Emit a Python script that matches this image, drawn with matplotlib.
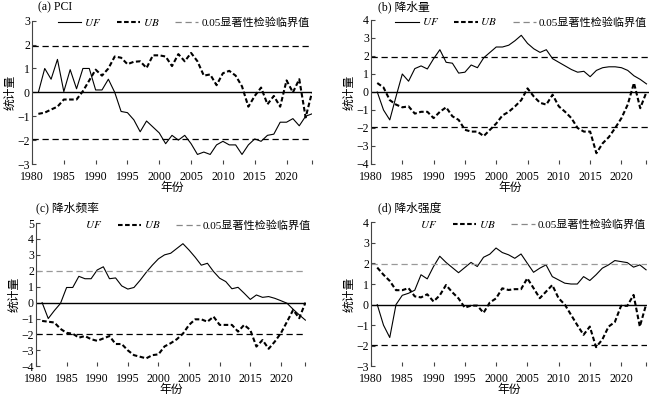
import numpy as np
import matplotlib
matplotlib.use("Agg")
import matplotlib.pyplot as plt
from matplotlib.lines import Line2D

plt.rcParams['font.family'] = ['Liberation Serif', 'Noto Sans CJK SC']
plt.rcParams['mathtext.fontset'] = 'stix'
plt.rcParams['axes.unicode_minus'] = True

years = np.arange(1981, 2025)

# (a) PCI
uf_pci = [0, 1.0, 0.55, 1.38, 0.03, 0.95, 0.15, 1.0, 1.0, 0.1,
          0.1, 0.55, 0.0, -0.8, -0.85, -1.15, -1.65, -1.2, -1.45, -1.7,
          -2.15, -1.8, -2.0, -1.8, -2.15, -2.6, -2.5, -2.6, -2.2, -2.05,
          -2.2, -2.2, -2.6, -2.2, -1.95, -2.05, -1.8, -1.75, -1.25, -1.25,
          -1.1, -1.4, -1.0, -0.9]
ub_pci = [-0.9, -0.85, -0.72, -0.6, -0.3, -0.3, -0.3, 0.05, 0.5, 0.95,
          0.7, 1.0, 1.5, 1.45, 1.18, 1.28, 1.3, 1.02, 1.55, 1.55,
          1.5, 1.1, 1.6, 1.3, 1.65, 1.3, 0.7, 0.75, 0.3, 0.8,
          0.9, 0.7, 0.25, -0.6, -0.15, 0.2, -0.5, -0.15, -0.6, 0.5,
          0.0, 0.55, -1.05, 0.0]

# (b) 降水量
uf_pre = [0, -1.0, -1.55, -0.25, 1.0, 0.6, 1.3, 1.45, 1.28, 1.85,
          2.35, 1.65, 1.6, 1.05, 1.1, 1.5, 1.35, 1.9, 2.2, 2.5,
          2.5, 2.6, 2.85, 3.15, 2.7, 2.4, 2.2, 2.35, 1.85, 1.65,
          1.45, 1.25, 1.1, 1.15, 0.85, 1.2, 1.35, 1.4, 1.4, 1.35,
          1.2, 0.9, 0.7, 0.45]
ub_pre = [0.5, 0.25, -0.45, -0.7, -0.85, -0.8, -1.2, -1.1, -1.1, -1.45,
          -1.1, -0.85, -1.35, -1.55, -2.1, -2.2, -2.2, -2.45, -2.1, -1.75,
          -1.3, -1.1, -0.8, -0.45, 0.2, -0.25, -0.6, -0.7, -0.15, -0.8,
          -1.1, -1.45, -2.0, -2.2, -2.2, -3.4, -2.85, -2.5, -2.0, -1.45,
          -0.7, 0.5, -0.9, 0.0]

# (c) 降水频率
uf_frq = [0, -1.0, -0.5, -0.05, 0.95, 0.95, 1.65, 1.5, 1.5, 2.05,
          2.25, 1.5, 1.55, 1.05, 0.85, 0.95, 1.4, 1.9, 2.35, 2.75,
          3.0, 3.1, 3.4, 3.7, 3.3, 2.85, 2.35, 2.47, 1.95, 1.53,
          1.32, 0.87, 0.96, 0.59, 0.2, 0.48, 0.33, 0.38, 0.27, 0.12,
          -0.04, -0.42, -0.77, -1.1]
ub_frq = [-1.15, -1.2, -1.25, -1.65, -1.9, -1.95, -2.2, -2.1, -2.3, -2.4,
          -2.25, -2.1, -2.6, -2.6, -3.0, -3.3, -3.4, -3.5, -3.3, -3.25,
          -2.75, -2.55, -2.3, -1.95, -1.4, -1.05, -1.05, -1.2, -0.88, -1.4,
          -1.4, -1.4, -1.82, -1.4, -1.72, -2.76, -2.35, -2.9, -2.45, -1.92,
          -1.2, -0.46, -0.98, 0.0]

# (d) 降水强度
uf_int = [0, -1.0, -1.6, 0.0, 0.45, 0.55, 0.7, 1.45, 1.25, 1.85,
          2.35, 2.05, 1.8, 1.55, 1.8, 2.05, 1.85, 2.3, 2.45, 2.75,
          2.53, 2.42, 2.25, 2.46, 2.01, 1.57, 1.77, 1.93, 1.36, 1.2,
          1.04, 1.0, 1.0, 1.36, 1.17, 1.45, 1.77, 1.93, 2.14, 2.09,
          2.04, 1.82, 1.93, 1.69]
ub_int = [1.8, 1.45, 1.15, 0.7, 0.7, 0.8, 0.4, 0.35, 0.5, 0.15,
          0.45, 0.95, 0.6, 0.3, -0.15, -0.05, -0.05, -0.4, 0.1, 0.3,
          0.79, 0.71, 0.75, 0.75, 1.28, 0.8, 0.31, 0.63, 0.95, 0.31,
          0.0, -0.5, -1.0, -1.47, -1.07, -2.07, -1.7, -1.07, -0.85, -0.06,
          -0.06, 0.47, -1.07, 0.0]

titles = ["(a) PCI", "(b) 降水量", "(c) 降水频率", "(d) 降水强度"]
ylims = [(-3, 3), (-4, 4), (-4, 5), (-3, 4)]
xticks = [1980, 1985, 1990, 1995, 2000, 2005, 2010, 2015, 2020]
crit = 1.96

W, H = 650, 398
# axes boxes in pixels: left, right, top, bottom, xmax
boxes = [(32, 312, 20.7, 164, 2024.0),
         (371, 649, 20, 164, 2024.4),
         (36, 306, 223, 366.3, 2024.1),
         (371, 646.7, 222.3, 366.3, 2024.1)]
upper_gray = [False, False, True, True]
title_pos = [(38, 7), (378, 7), (36, 208), (378, 208)]
legend_x = [0.085, 0.08, 0.078, 0.076]

fig = plt.figure(figsize=(W / 100, H / 100), dpi=100)

panels = [(uf_pci, ub_pci), (uf_pre, ub_pre), (uf_frq, ub_frq), (uf_int, ub_int)]
for i, (uf, ub) in enumerate(panels):
    l, r, t, b, xmax = boxes[i]
    ax = fig.add_axes([l / W, 1 - b / H, (r - l) / W, (b - t) / H])
    ax.plot(years, uf, color='black', lw=0.8)
    ax.plot(years, ub, color='black', lw=1.5, dashes=(2.2, 1.2))
    ax.axhline(0, color='black', lw=1.0)
    ax.axhline(crit, color='#999999' if upper_gray[i] else 'black',
               lw=0.9, dashes=(5, 3))
    ax.axhline(-crit, color='black', lw=0.9, dashes=(5, 3))
    ax.set_xlim(1980, xmax)
    ax.set_ylim(*ylims[i])
    ax.set_xticks(xticks + [2024])
    ax.set_xticklabels([str(x) for x in xticks] + [''])
    ax.set_yticks(np.arange(ylims[i][0], ylims[i][1] + 1))
    for s in ['top', 'right', 'bottom']:
        ax.spines[s].set_visible(False)
    ax.spines['left'].set_color('#444444')
    ax.spines['left'].set_linewidth(0.8)
    ax.tick_params(direction='in', length=3, width=0.8, labelsize=8.5,
                   color='#444444')
    ax.tick_params(axis='x', pad=5)
    ax.tick_params(axis='y', pad=1.5)
    ax.set_xlabel("年份", fontsize=8.5, labelpad=-1)
    ax.set_ylabel("统计量", fontsize=8.5, labelpad=1)
    fig.text(title_pos[i][0] / W, 1 - title_pos[i][1] / H, titles[i],
             fontsize=8.5, va='center', ha='left')

    uf_handle = Line2D([], [], color='black', lw=0.8,
                       visible=not upper_gray[i])
    ub_handle = Line2D([], [], color='black', lw=1.5, dashes=(2.2, 1.2))
    cr_handle = Line2D([], [], color='#888888', lw=0.9, dashes=(5, 3))
    ax.legend([uf_handle, ub_handle, cr_handle],
              ['$UF$', '$UB$', '0.05显著性检验临界值'],
              loc='upper left', bbox_to_anchor=(legend_x[i], 1.04), ncol=3,
              frameon=False, fontsize=8, handlelength=2.1,
              handletextpad=0.25, columnspacing=1.4, borderpad=0.2,
              borderaxespad=0)

fig.savefig("out.png", dpi=100)
